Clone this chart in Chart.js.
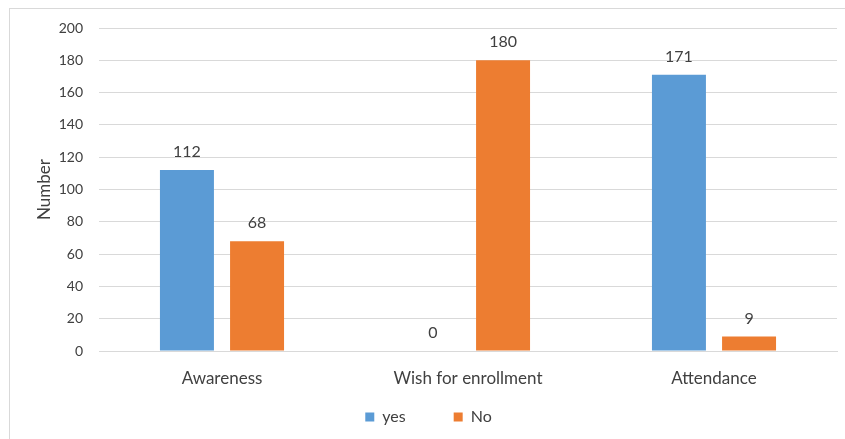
<!DOCTYPE html>
<html>
<head>
<meta charset="utf-8">
<script src="https://cdn.jsdelivr.net/npm/chart.js@4/dist/chart.umd.min.js"></script>
<style>
  html, body { margin: 0; padding: 0; background: #fff; }
  #wrap { position: relative; width: 845px; height: 439px; overflow: hidden; }
  #frame { position: absolute; left: 9px; top: 8px; width: 900px; height: 500px; border: 1px solid #d9d9d9; box-sizing: border-box; }
  #chartBox { position: absolute; left: 0; top: 0; width: 845px; height: 439px; }
</style>
</head>
<body>
<div id="wrap">
  <div id="frame"></div>
  <div id="chartBox"><canvas id="chart"></canvas></div>
</div>
<script>
// chart data
const categories = ['Awareness', 'Wish for enrollment', 'Attendance'];
const yesValues = [112, 0, 171];
const noValues = [68, 180, 9];
const yTicks = [0, 20, 40, 60, 80, 100, 120, 140, 160, 180, 200];

const FONT = "Lato, 'Open Sans', sans-serif";
const TEXT = '#404040';

// value labels above each bar
const barLabels = {
  id: 'barLabels',
  afterDatasetsDraw(chart) {
    const ctx = chart.ctx;
    ctx.save();
    ctx.font = '16px ' + FONT;
    ctx.fillStyle = TEXT;
    ctx.textAlign = 'center';
    ctx.textBaseline = 'middle';
    chart.data.datasets.forEach((ds, i) => {
      chart.getDatasetMeta(i).data.forEach((bar, j) => {
        ctx.fillText(String(ds.data[j]), bar.x, bar.y - 18);
      });
    });
    ctx.restore();
  }
};

// wide legend spacing without letting the legend eat the plot height
const legendRow = {
  id: 'legendRow',
  afterInit(chart) {
    const lg = chart.legend;
    const origFit = lg.fit;
    lg.fit = function () {
      origFit.call(this);
      this.height = 0;
    };
  },
  afterLayout(chart) {
    const lg = chart.legend;
    lg.top = 361;
    lg.bottom = 439;
    lg.left = 20;
  }
};

new Chart(document.getElementById('chart'), {
  type: 'bar',
  data: {
    labels: categories,
    datasets: [
      {
        label: 'yes',
        data: yesValues,
        backgroundColor: '#5b9bd5',
        borderWidth: 0,
        categoryPercentage: 0.57,
        barPercentage: 0.77
      },
      {
        label: 'No',
        data: noValues,
        backgroundColor: '#ed7d31',
        borderWidth: 0,
        categoryPercentage: 0.57,
        barPercentage: 0.77
      }
    ]
  },
  options: {
    responsive: true,
    maintainAspectRatio: false,
    animation: false,
    layout: {
      padding: { top: 28, right: 8, left: 0, bottom: 48 }
    },
    scales: {
      y: {
        min: 0,
        max: 200,
        afterBuildTicks: (scale) => { scale.ticks = yTicks.map((v) => ({ value: v })); },
        afterFit: (scale) => { scale.width = 99; },
        border: { display: false },
        grid: { color: '#d9d9d9', drawTicks: false },
        ticks: { color: TEXT, font: { family: FONT, size: 14 }, padding: 16 },
        title: {
          display: true,
          text: 'Number',
          color: TEXT,
          font: { family: FONT, size: 17 },
          padding: { top: 34, bottom: 0 }
        }
      },
      x: {
        afterFit: (scale) => { scale.height = 40; },
        border: { color: '#d9d9d9' },
        grid: { display: false, drawTicks: false },
        ticks: { color: TEXT, font: { family: FONT, size: 17 }, padding: 17 }
      }
    },
    plugins: {
      legend: {
        position: 'bottom',
        labels: {
          color: TEXT,
          font: { family: FONT, size: 16 },
          boxWidth: 9,
          boxHeight: 9,
          padding: 48
        }
      },
      tooltip: { enabled: false }
    }
  },
  plugins: [barLabels, legendRow]
});
</script>
</body>
</html>
